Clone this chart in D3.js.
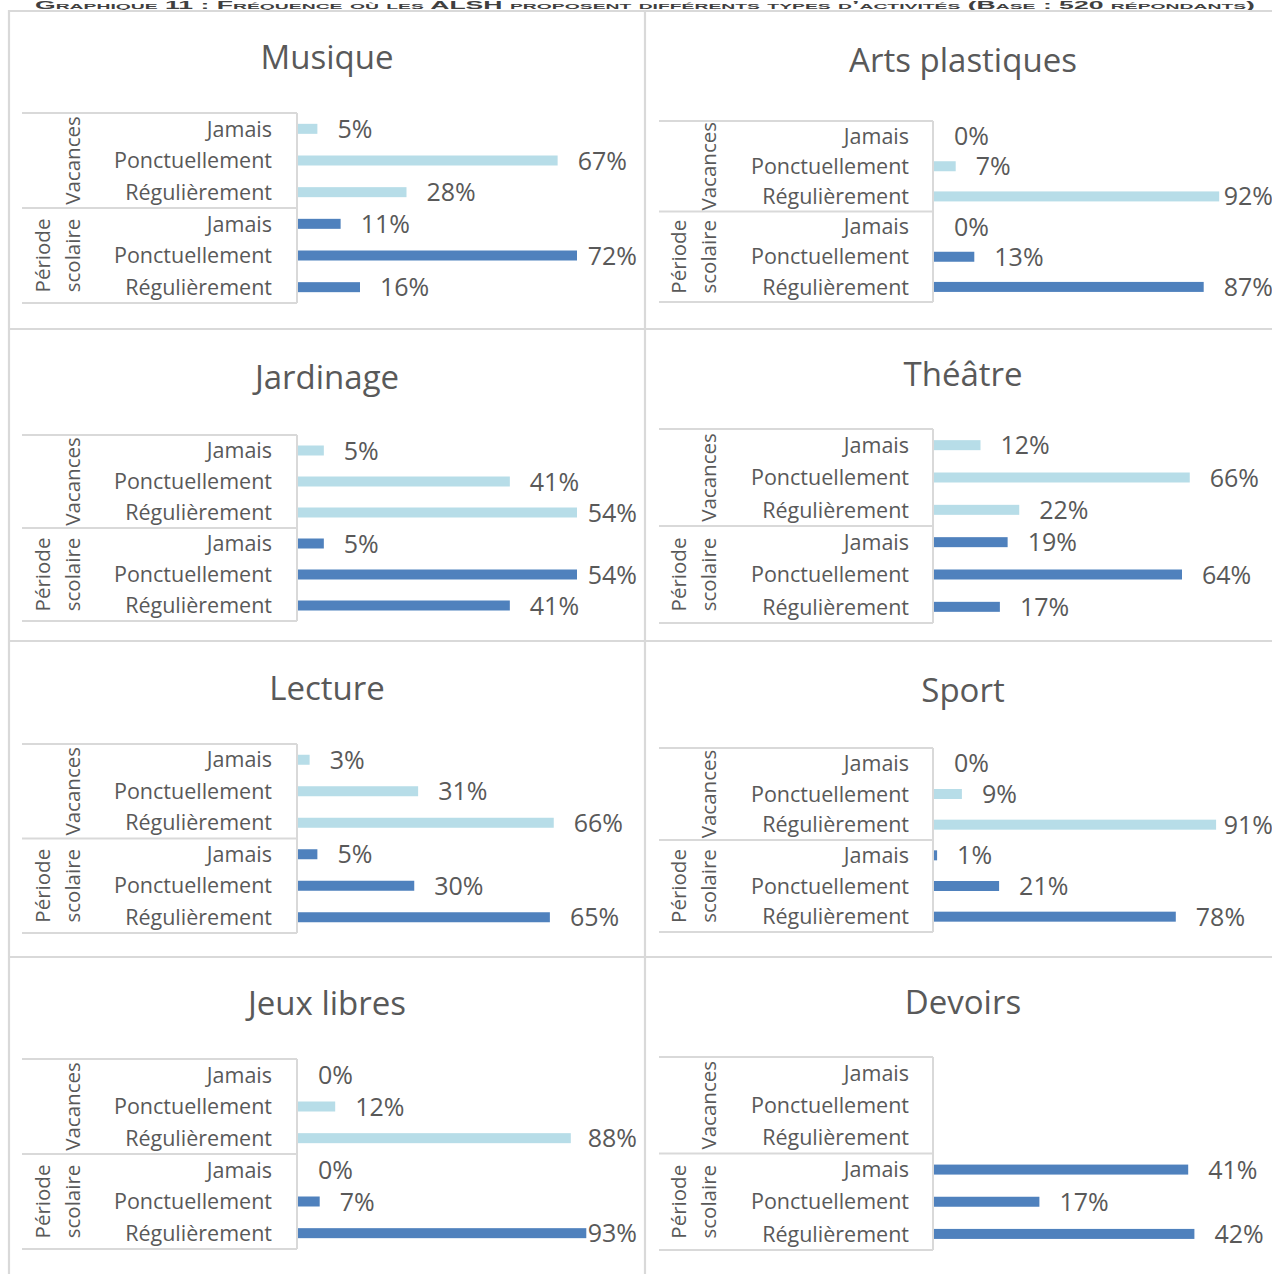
<!DOCTYPE html>
<html><head><meta charset="utf-8">
<script src="https://cdn.jsdelivr.net/npm/d3@7"></script>
<style>
html,body{margin:0;padding:0;background:#fff;overflow:hidden;}
svg{display:block;}
</style></head>
<body>
<svg id="chart" width="1272" height="1274"></svg>
<script>
// ---------- DATA ----------
const activities = ["Musique","Arts plastiques","Jardinage","Théâtre","Lecture","Sport","Jeux libres","Devoirs"];
const periods = ["Vacances","Période scolaire"];
const frequencies = ["Jamais","Ponctuellement","Régulièrement"];
const vacancesValues = [[5,67,28],[0,7,92],[5,41,54],[12,66,22],[3,31,66],[0,9,91],[0,12,88],[null,null,null]];
const scolaireValues = [[11,72,16],[0,13,87],[5,54,41],[19,64,17],[5,30,65],[1,21,78],[0,7,93],[41,17,42]];
const axisMax = [80,100,60,80,80,100,100,50];
const pageTitle = "Graphique 11 : Fréquence où les ";
const pageTitleBold = "ALSH";
const pageTitleEnd = " proposent différents types d’activités (Base : 520 répondants)";

// ---------- LAYOUT ----------
const columns = [
  {boxLeft:22, boxRight:297, catRight:272, g1:43, g2:73, chartRight:637, titleX:327},
  {boxLeft:659, boxRight:933, catRight:909, g1:679, g2:709, chartRight:1273, titleX:963}
];
const panelLayout = [
  {col:0, title:57, top:113, bottom:303},
  {col:1, title:60, top:121, bottom:302},
  {col:0, title:377, top:435, bottom:621},
  {col:1, title:374, top:429, bottom:623},
  {col:0, title:688, top:744, bottom:933},
  {col:1, title:690, top:748, bottom:932},
  {col:0, title:1003, top:1059, bottom:1249},
  {col:1, title:1002, top:1057, bottom:1250}
];
const plotWidth = 310, barH = 10, labelGap = 20;
const colLight = "#B7DDE8", colDark = "#4F81BD", textCol = "#595959", lineCol = "#D9D9D9";
const FONT = "'Open Sans', sans-serif";

const svg = d3.select("#chart");

// page title (at the very top edge, as in the reference)
const pt = svg.append("text").attr("x", 35).attr("y", 8.5)
  .attr("font-family", "'Liberation Sans', Arial, sans-serif").attr("font-size", 11)
  .attr("font-weight", "bold").attr("fill", "#404040")
  .style("font-variant", "small-caps")
  .attr("textLength", 1220).attr("lengthAdjust", "spacingAndGlyphs");
pt.append("tspan").text(pageTitle);
pt.append("tspan").text(pageTitleBold);
pt.append("tspan").text(pageTitleEnd);

// grid of panels
const grid = svg.append("g").attr("stroke", lineCol).attr("stroke-width", 2.2);
[11, 329, 641, 957].forEach(y => grid.append("line").attr("x1", 8).attr("x2", 1272).attr("y1", y).attr("y2", y));
[9, 645].forEach(x => grid.append("line").attr("x1", x).attr("x2", x).attr("y1", 10).attr("y2", 1274));

activities.forEach((act, i) => {
  const L = panelLayout[i], C = columns[L.col];
  const g = svg.append("g");
  // title
  g.append("text").attr("x", C.titleX).attr("y", L.title + 12)
    .attr("text-anchor", "middle").attr("font-family", FONT).attr("font-size", 33)
    .attr("fill", textCol).text(act);

  const rows = [];
  periods.forEach((p, pi) => frequencies.forEach((f, fi) => {
    const v = (pi === 0 ? vacancesValues : scolaireValues)[i][fi];
    rows.push({key: p + "|" + f, period: p, pi, freq: f, value: v});
  }));

  const y = d3.scaleBand().domain(rows.map(r => r.key)).range([L.top, L.bottom]);
  const x0 = C.boxRight + 1;
  const x = d3.scaleLinear().domain([0, axisMax[i]]).range([x0, x0 + plotWidth]);

  // category box lines
  const mid = y(rows[3].key);
  const bl = g.append("g").attr("stroke", lineCol).attr("stroke-width", 2);
  [L.top, mid, L.bottom].forEach(yy => bl.append("line").attr("x1", C.boxLeft).attr("x2", C.boxRight).attr("y1", yy).attr("y2", yy));
  bl.append("line").attr("x1", C.boxRight).attr("x2", C.boxRight).attr("y1", L.top).attr("y2", L.bottom);

  // category labels
  g.selectAll("text.cat").data(rows).join("text").attr("class", "cat")
    .attr("x", C.catRight).attr("y", r => y(r.key) + y.bandwidth() / 2).attr("dy", "0.36em")
    .attr("text-anchor", "end").attr("font-family", FONT).attr("font-size", 21.5)
    .attr("fill", textCol).text(r => r.freq);

  // group labels (rotated)
  const vc = (L.top + mid) / 2, sc = (mid + L.bottom) / 2;
  g.append("text").attr("transform", `translate(${C.g2},${vc}) rotate(-90)`)
    .attr("text-anchor", "middle").attr("dy", "0.36em").attr("font-family", FONT).attr("font-size", 20.5)
    .attr("fill", textCol).text(periods[0]);
  const parts = periods[1].split(" ");
  g.append("text").attr("transform", `translate(${C.g1},${sc}) rotate(-90)`)
    .attr("text-anchor", "middle").attr("dy", "0.36em").attr("font-family", FONT).attr("font-size", 20.5)
    .attr("fill", textCol).text(parts[0]);
  g.append("text").attr("transform", `translate(${C.g2},${sc}) rotate(-90)`)
    .attr("text-anchor", "middle").attr("dy", "0.36em").attr("font-family", FONT).attr("font-size", 20.5)
    .attr("fill", textCol).text(parts[1]);

  const valid = rows.filter(r => r.value !== null);
  // bars
  g.selectAll("rect.bar").data(valid).join("rect").attr("class", "bar")
    .attr("x", x(0)).attr("width", r => x(r.value) - x(0))
    .attr("y", r => y(r.key) + y.bandwidth() / 2 - barH / 2).attr("height", barH)
    .attr("fill", r => r.pi === 0 ? colLight : colDark);

  // data labels
  g.selectAll("text.val").data(valid).join("text").attr("class", "val")
    .attr("y", r => y(r.key) + y.bandwidth() / 2).attr("dy", "0.36em")
    .attr("font-family", FONT).attr("font-size", 25).attr("fill", textCol)
    .text(r => r.value + "%")
    .attr("x", function(r) {
      const w = this.getComputedTextLength();
      return Math.min(x(r.value) + labelGap, C.chartRight - w);
    });
});
</script>
</body></html>
